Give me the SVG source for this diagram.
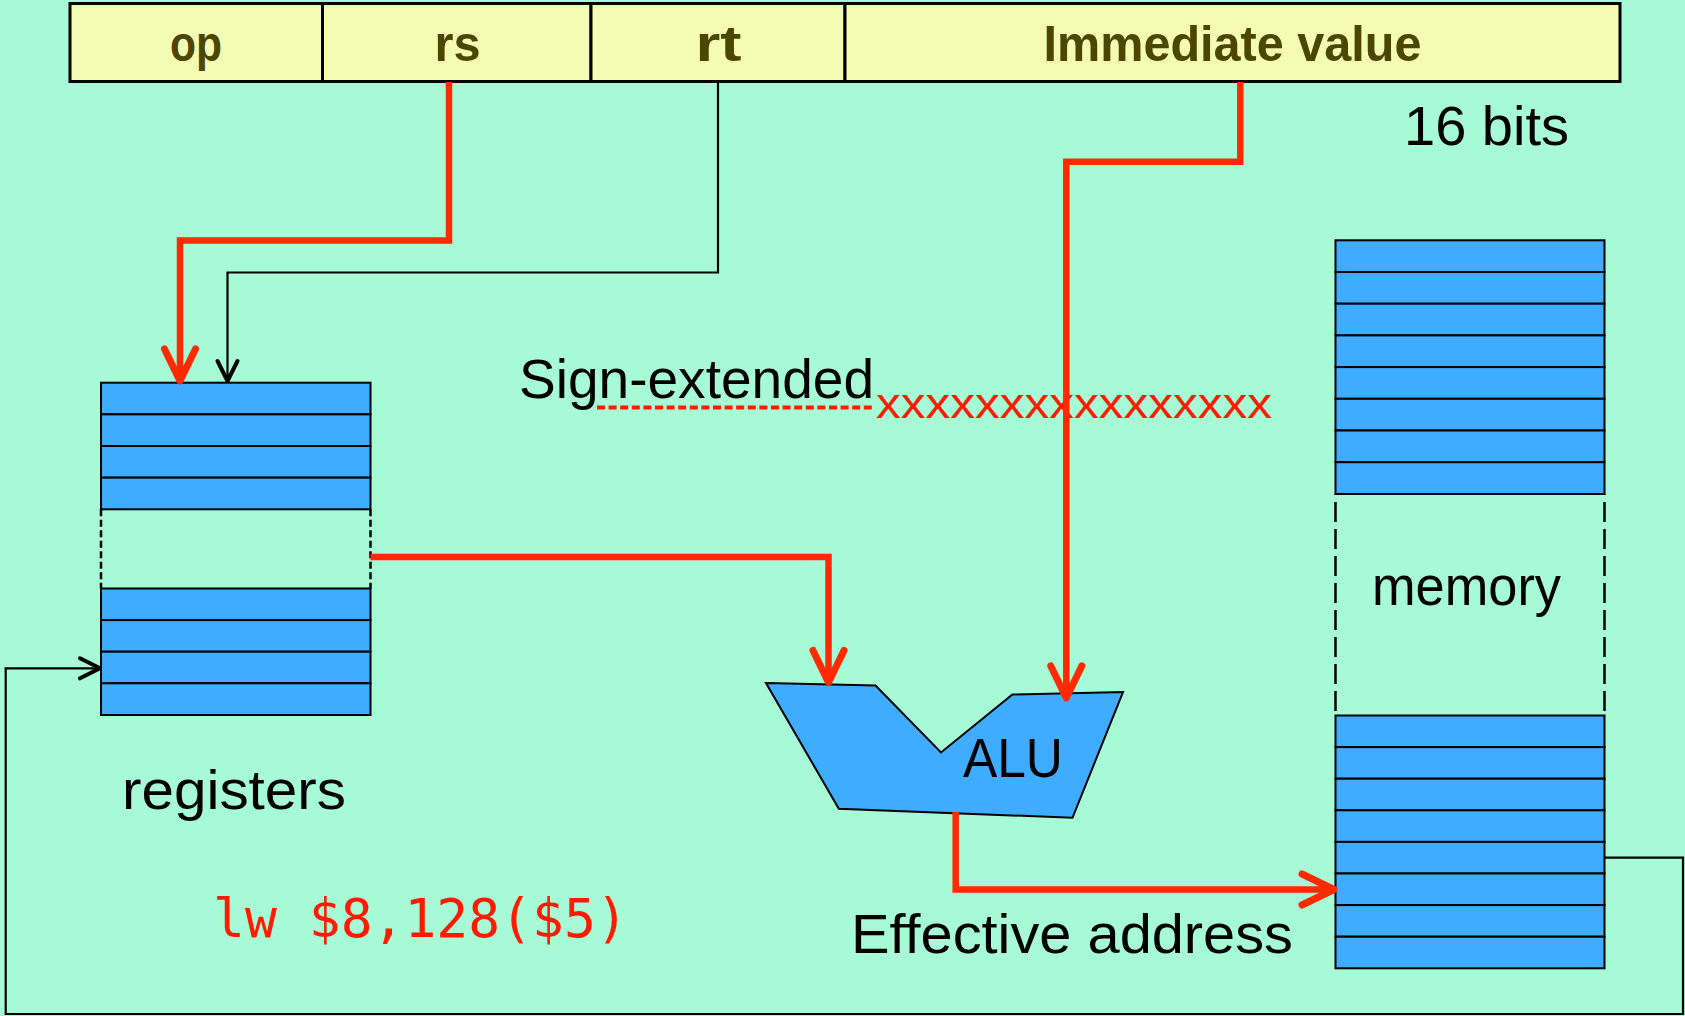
<svg xmlns="http://www.w3.org/2000/svg" width="1685" height="1016" viewBox="0 0 1685 1016">
<style>
.bg{fill:#A6FAD6}
.field{fill:#F4FCB4;stroke:#000;stroke-width:3}
.ftxt{font-family:"Liberation Sans",Arial,sans-serif;font-weight:bold;font-size:50px;fill:#4B4600;text-anchor:middle}
.cell{fill:#40ACFF;stroke:#000;stroke-width:2}
.gap{fill:none;stroke:#000;stroke-width:2.5}
.lbl{font-family:"Liberation Sans",Arial,sans-serif;font-size:55px;fill:#000}
.red{fill:none;stroke:#FF2A00;stroke-width:6.5;stroke-linejoin:miter}
.blk{fill:none;stroke:#000;stroke-width:2.2}
.redtxt{fill:#FF1A00}
</style>
<defs>
<marker id="ahRed" markerUnits="userSpaceOnUse" orient="auto" refX="0" refY="0" markerWidth="40" markerHeight="40" overflow="visible">
<path d="M-32,-15.5 L0,0 L-32,15.5" fill="none" stroke="#FF2A00" stroke-width="7" stroke-linecap="round" stroke-linejoin="round"/>
</marker>
<marker id="ahBlk" markerUnits="userSpaceOnUse" orient="auto" refX="0" refY="0" markerWidth="30" markerHeight="30" overflow="visible">
<path d="M-20,-10 L0,0 L-20,10" fill="none" stroke="#000" stroke-width="4" stroke-linecap="round" stroke-linejoin="round"/>
</marker>
</defs>
<rect class="bg" x="0" y="0" width="1685" height="1016"/>

<g id="instruction">
<g id="field-op"><rect class="field" x="70" y="3.5" width="252.5" height="78"/><text class="ftxt" x="196" y="61" textLength="52" lengthAdjust="spacingAndGlyphs">op</text></g>
<g id="field-rs"><rect class="field" x="322.5" y="3.5" width="268.5" height="78"/><text class="ftxt" x="457.5" y="61" textLength="46" lengthAdjust="spacingAndGlyphs">rs</text></g>
<g id="field-rt"><rect class="field" x="591" y="3.5" width="254" height="78"/><text class="ftxt" x="718.5" y="61" textLength="46" lengthAdjust="spacingAndGlyphs">rt</text></g>
<g id="field-imm"><rect class="field" x="845" y="3.5" width="775" height="78"/><text class="ftxt" x="1232.5" y="61" textLength="378" lengthAdjust="spacingAndGlyphs">Immediate value</text></g>
</g>

<text class="lbl" x="1404" y="145" textLength="165" lengthAdjust="spacingAndGlyphs">16 bits</text>

<g id="registers">
<rect class="cell" x="101" y="382.7" width="269.5" height="31.65"/>
<rect class="cell" x="101" y="414.35" width="269.5" height="31.65"/>
<rect class="cell" x="101" y="446" width="269.5" height="31.65"/>
<rect class="cell" x="101" y="477.65" width="269.5" height="31.65"/>
<path class="gap" d="M101,509.3 V588.5 M370.5,509.3 V588.5" stroke-dasharray="7 3.5"/>
<rect class="cell" x="101" y="588.5" width="269.5" height="31.6"/>
<rect class="cell" x="101" y="620.1" width="269.5" height="31.6"/>
<rect class="cell" x="101" y="651.7" width="269.5" height="31.6"/>
<rect class="cell" x="101" y="683.3" width="269.5" height="31.7"/>
<text class="lbl" x="122" y="809" textLength="224" lengthAdjust="spacingAndGlyphs">registers</text>
</g>

<g id="memory">
<rect class="cell" x="1335.5" y="240.3" width="269" height="31.7"/>
<rect class="cell" x="1335.5" y="272" width="269" height="31.7"/>
<rect class="cell" x="1335.5" y="303.7" width="269" height="31.7"/>
<rect class="cell" x="1335.5" y="335.4" width="269" height="31.7"/>
<rect class="cell" x="1335.5" y="367.1" width="269" height="31.7"/>
<rect class="cell" x="1335.5" y="398.8" width="269" height="31.7"/>
<rect class="cell" x="1335.5" y="430.5" width="269" height="31.7"/>
<rect class="cell" x="1335.5" y="462.2" width="269" height="31.8"/>
<path class="gap" d="M1335.5,494 V715.5 M1604.5,494 V715.5" stroke-dasharray="20 7" stroke-dashoffset="-8"/>
<rect class="cell" x="1335.5" y="715.5" width="269" height="31.6"/>
<rect class="cell" x="1335.5" y="747.1" width="269" height="31.6"/>
<rect class="cell" x="1335.5" y="778.7" width="269" height="31.6"/>
<rect class="cell" x="1335.5" y="810.3" width="269" height="31.6"/>
<rect class="cell" x="1335.5" y="841.9" width="269" height="31.6"/>
<rect class="cell" x="1335.5" y="873.5" width="269" height="31.6"/>
<rect class="cell" x="1335.5" y="905.1" width="269" height="31.6"/>
<rect class="cell" x="1335.5" y="936.7" width="269" height="31.6"/>
<text class="lbl" x="1372" y="605" textLength="189" lengthAdjust="spacingAndGlyphs">memory</text>
</g>

<g id="alu">
<polygon points="766,683 875.5,685.5 941,752.5 1012.4,694.5 1123,692 1072.5,817.8 838.8,808.7" fill="#40ACFF" stroke="#000" stroke-width="2" stroke-linejoin="miter"/>
<text class="lbl" x="963" y="777" textLength="100" lengthAdjust="spacingAndGlyphs">ALU</text>
</g>

<g id="sign-extend">
<text class="lbl" x="519" y="398" textLength="355" lengthAdjust="spacingAndGlyphs">Sign-extended</text>
<path d="M597,407.5 H874" fill="none" stroke="#FF1A00" stroke-width="4" stroke-dasharray="8 3.6"/>
<text class="redtxt" x="876" y="418" font-family="Liberation Sans, Arial, sans-serif" font-size="43" textLength="396" lengthAdjust="spacingAndGlyphs">xxxxxxxxxxxxxxxx</text>
</g>

<g id="connectors">
<path class="red" d="M449,82 V240.5 H180 V381" marker-end="url(#ahRed)"/>
<path class="blk" d="M718,82 V272.5 H227.5 V381" marker-end="url(#ahBlk)"/>
<path class="red" d="M370.5,557 H828.5 V682.5" marker-end="url(#ahRed)"/>
<path class="red" d="M1240.3,82 V161.7 H1066.3 V698" marker-end="url(#ahRed)"/>
<path class="red" d="M955.7,812 V889.5 H1334" marker-end="url(#ahRed)"/>
<path class="blk" d="M1604.5,857.7 H1683 V1014 H5.7 V668.3 H100" marker-end="url(#ahBlk)"/>
</g>

<text x="213" y="937" font-family="DejaVu Sans Mono, Liberation Mono, monospace" font-size="53" fill="#FF1A00">lw $8,128($5)</text>
<text class="lbl" x="851" y="953" textLength="442" lengthAdjust="spacingAndGlyphs">Effective address</text>
</svg>
